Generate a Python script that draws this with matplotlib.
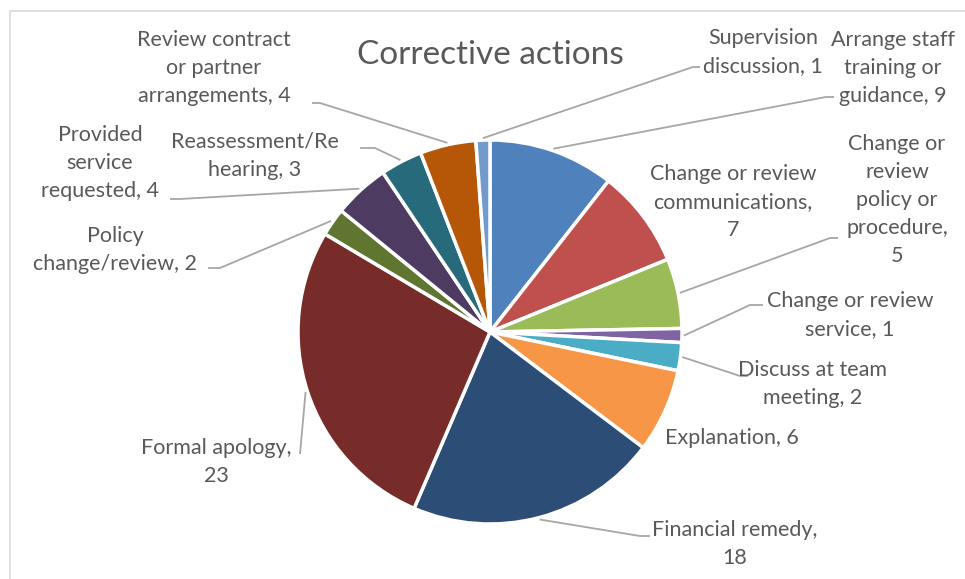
import matplotlib
matplotlib.use("Agg")
import matplotlib.pyplot as plt
import numpy as np
from matplotlib.patches import Rectangle

# ---- data ----
categories = [
    "Arrange staff\ntraining or\nguidance",
    "Change or review\ncommunications",
    "Change or\nreview\npolicy or\nprocedure",
    "Change or review\nservice",
    "Discuss at team\nmeeting",
    "Explanation",
    "Financial remedy",
    "Formal apology",
    "Policy\nchange/review",
    "Provided\nservice\nrequested",
    "Reassessment/Re\nhearing",
    "Review contract\nor partner\narrangements",
    "Supervision\ndiscussion",
]
values = [9, 7, 5, 1, 2, 6, 18, 23, 2, 4, 3, 4, 1]
# value separator: ", " on same line or newline
value_sep = [", ", ",\n", ",\n", ", ", ", ", ", ", ",\n", ",\n", ", ", ", ", ", ", ", ", ", "]
colors = ["#4F81BD", "#C0504D", "#9BBB59", "#8064A2", "#4BACC6", "#F79646",
          "#2C4D75", "#772C2A", "#5F7530", "#4D3B62", "#276A7C", "#B65708", "#729ACA"]
title = "Corrective actions"

# ---- layout (pixel coords, origin top-left) ----
W, H = 965, 579
center_px = (490, 332)
radius_px = 192
label_pos = [(893, 68), (733, 202), (897, 200), (850, 315), (813, 384), (732, 438),
             (735, 544), (216, 462), (115, 250), (100, 163), (255, 156), (214, 68), (763, 52)]
# leader lines: (elbow, end) or None
leaders = [((826, 97), (834, 97)), None, ((830, 238), (838, 238)), ((750, 305), (763, 305)),
           ((740, 376), (748, 376)), None, ((640, 536), (650, 536)), ((300, 454), (300, 454)),
           ((220, 268), (208, 268)), ((180, 199), (170, 199)), ((375, 148), (360, 148)),
           ((320, 103), (312, 103)), ((693, 67), (700, 67))]

def P(x, y):
    return (x, H - y)

fig = plt.figure(figsize=(W / 100, H / 100), dpi=100)
ax = fig.add_axes([0, 0, 1, 1])
ax.set_xlim(0, W)
ax.set_ylim(0, H)
ax.set_aspect("equal")
ax.axis("off")

# chart border
ax.add_patch(Rectangle(P(10, H + 20), W + 20, H + 20 - 11, fill=False,
                       edgecolor="#D9D9D9", linewidth=1.2))

wedges, _ = ax.pie(values, colors=colors, startangle=90, counterclock=False,
                   center=P(*center_px), radius=radius_px,
                   wedgeprops=dict(edgecolor="white", linewidth=2.5))
ax.set_xlim(0, W)
ax.set_ylim(0, H)

font = ["Lato", "DejaVu Sans"]
txtc = "#595959"
cx, cy = P(*center_px)
for w, cat, v, sep, lp, ld in zip(wedges, categories, values, value_sep, label_pos, leaders):
    ax.text(*P(*lp), f"{cat}{sep}{v}", ha="center", va="center", fontsize=15.5,
            color=txtc, family=font, linespacing=1.5)
    if ld is not None:
        ang = np.deg2rad((w.theta1 + w.theta2) / 2)
        sx = cx + radius_px * 1.01 * np.cos(ang)
        sy = cy + radius_px * 1.01 * np.sin(ang)
        e1 = P(*ld[0]); e2 = P(*ld[1])
        ax.plot([sx, e1[0], e2[0]], [sy, e1[1], e2[1]], color="#A6A6A6", lw=1.3,
                solid_capstyle="butt")

ax.text(*P(490, 55), title, ha="center", va="center", fontsize=24, color=txtc, family=font)

fig.savefig("out.png", dpi=100)
